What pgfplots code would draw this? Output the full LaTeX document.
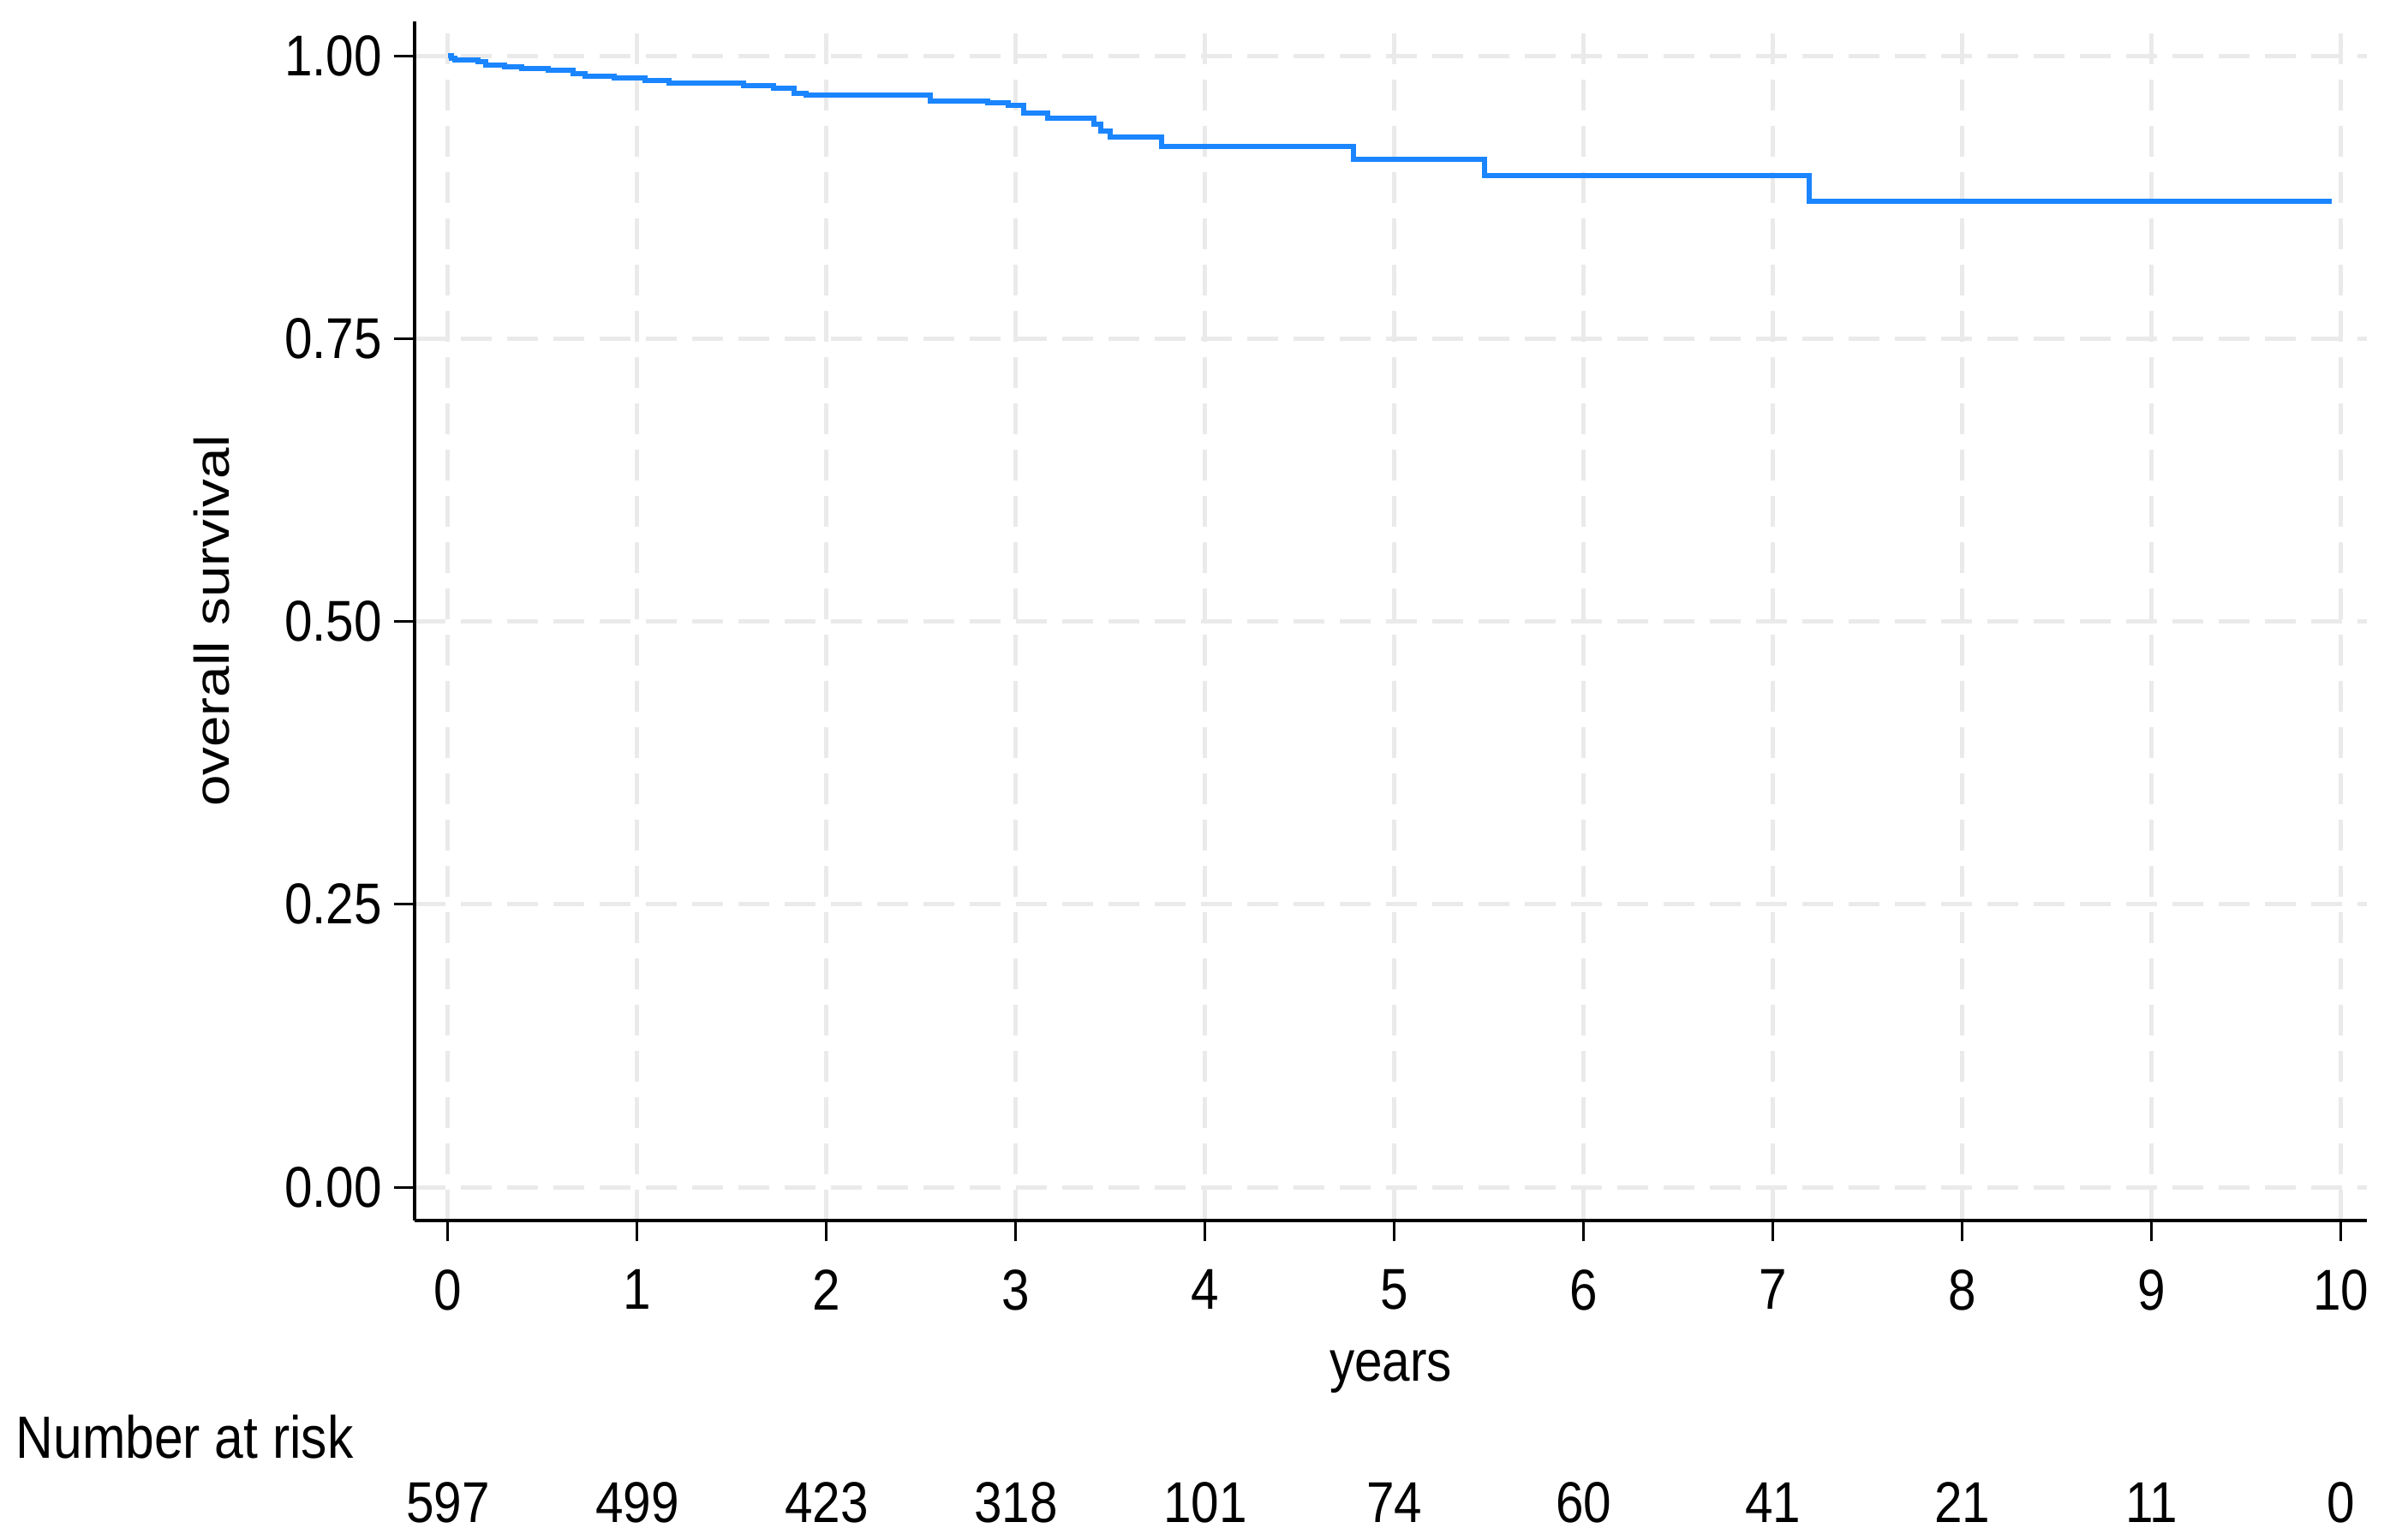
\documentclass[border=0pt]{standalone}
\usepackage{pgfplots}
\pgfplotsset{compat=1.18}
\usepackage{graphicx}
\usepackage{fontspec}
\setmainfont{Liberation Sans}[FakeStretch=0.87]
\newfontfamily\plainfont{Liberation Sans}
\definecolor{kmblue}{RGB}{26,133,255}
\definecolor{gridc}{RGB}{234,234,234}
\newcommand{\fs}{\fontsize{16.8}{20}\selectfont}
\begin{document}
\begin{tikzpicture}
\begin{axis}[
  scale only axis, width=569.75pt, height=350pt,
  xmin=-0.176, xmax=10.136, ymin=-0.0295, ymax=1.0303,
  axis x line*=bottom, axis y line*=left,
  axis line style={line width=0.8pt, -, black},
  xtick={0,1,...,10}, ytick={0,0.25,0.5,0.75,1},
  yticklabel style={/pgf/number format/.cd,fixed,fixed zerofill,precision=2},
  xticklabel style={yshift=-4.75pt},
  /pgf/number format/assume math mode=true,
  tick align=outside, major tick length=6pt,
  tick style={line width=0.75pt, black},
  grid=major,
  major grid style={gridc, line width=1.25pt, dash pattern=on 9pt off 4.5pt},
  ticklabel style={font=\fs},
  clip=false,
]
\addplot[const plot, kmblue, line width=1.5pt] coordinates {
(0,1.000) (0.02,0.998) (0.036,0.996) (0.158,0.9945) (0.198,0.992) (0.30,0.990)
(0.39,0.989) (0.53,0.987) (0.66,0.984) (0.725,0.9816) (0.877,0.980) (1.04,0.978)
(1.17,0.976) (1.56,0.9735) (1.72,0.9715) (1.83,0.967) (1.89,0.965) (2.55,0.960)
(2.85,0.958) (2.96,0.956) (3.04,0.9495) (3.17,0.945) (3.41,0.9395) (3.45,0.9336)
(3.50,0.928) (3.77,0.9198) (4.785,0.9084) (5.475,0.894) (7.19,0.871) (9.95,0.871)
};
\node[anchor=base, font=\fs, yshift=-46.75pt] at (rel axis cs:0.5,0) {years};
\node[anchor=base west, inner sep=0pt, font=\fontsize{17.4}{20}\selectfont, xshift=-116.5pt, yshift=-69.25pt] at (rel axis cs:0,0) {Number at risk};
\node[anchor=center, inner sep=0pt] at ([xshift=-59.25pt]rel axis cs:0,0.5) {\scalebox{0.87}[1]{\rotatebox{90}{\plainfont\fontsize{16.4}{20}\selectfont overall survival}}};
\node[anchor=base, font=\fs, yshift=-88pt] at (axis cs:0,-0.0295) {597};
\node[anchor=base, font=\fs, yshift=-88pt] at (axis cs:1,-0.0295) {499};
\node[anchor=base, font=\fs, yshift=-88pt] at (axis cs:2,-0.0295) {423};
\node[anchor=base, font=\fs, yshift=-88pt] at (axis cs:3,-0.0295) {318};
\node[anchor=base, font=\fs, yshift=-88pt] at (axis cs:4,-0.0295) {101};
\node[anchor=base, font=\fs, yshift=-88pt] at (axis cs:5,-0.0295) {74};
\node[anchor=base, font=\fs, yshift=-88pt] at (axis cs:6,-0.0295) {60};
\node[anchor=base, font=\fs, yshift=-88pt] at (axis cs:7,-0.0295) {41};
\node[anchor=base, font=\fs, yshift=-88pt] at (axis cs:8,-0.0295) {21};
\node[anchor=base, font=\fs, yshift=-88pt] at (axis cs:9,-0.0295) {11};
\node[anchor=base, font=\fs, yshift=-88pt] at (axis cs:10,-0.0295) {0};
\end{axis}
\useasboundingbox ([xshift=-121pt,yshift=-93pt]current axis.south west) rectangle ([xshift=6.75pt,yshift=6.25pt]current axis.north east);
\end{tikzpicture}
\end{document}
